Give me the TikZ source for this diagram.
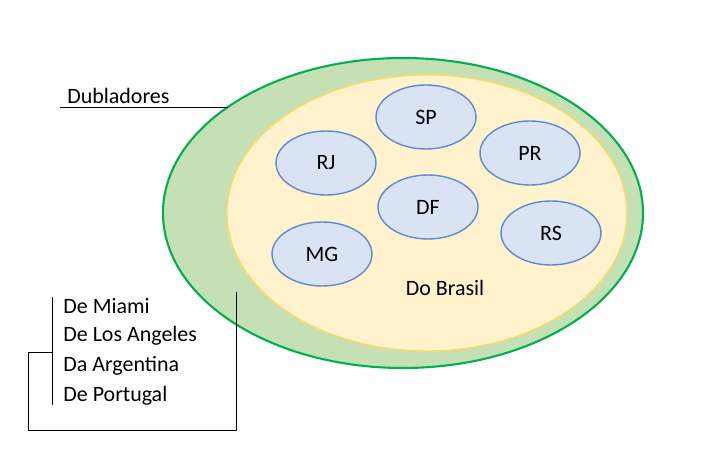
\documentclass[tikz,border=0pt]{standalone}
\usepackage{fontspec}
\setmainfont{Carlito}
\usetikzlibrary{calc, shapes.geometric}
\definecolor{outerfill}{HTML}{C5E0B4}
\definecolor{outerline}{HTML}{00B050}
\definecolor{innerfill}{HTML}{FFF2CC}
\definecolor{innerline}{HTML}{FFD966}
\definecolor{statefill}{HTML}{DAE3F3}
\definecolor{stateline}{HTML}{5B8BD0}
\tikzset{
  state/.style={draw=stateline, fill=statefill, thick, ellipse, minimum width=2cm, minimum height=1.28cm, font=\fontsize{12.5}{15}\selectfont},
  label text/.style={anchor=west, inner sep=0pt, font=\fontsize{12.5}{15}\selectfont}
}
\begin{document}
\begin{tikzpicture}[x=0.02cm, y=-0.02cm]
  \useasboundingbox (0, 0) rectangle (718, 455);
  % sets
  \draw [very thick, outerline, fill=outerfill] (403, 213) ellipse [x radius=240, y radius=155];
  \draw [thick, innerline, fill=innerfill] (427, 213) ellipse [x radius=200, y radius=138];
  \node [label text, anchor=center] (brasil) at (445, 288) {Do Brasil};

  % states
  \node [state] (SP) at (426, 117) {SP};
  \node [state] (RJ) at (326, 163) {RJ};
  \node [state] (PR) at (530, 153) {PR};
  \node [state] (DF) at (428, 207) {DF};
  \node [state] (RS) at (551, 233) {RS};
  \node [state] (MG) at (322, 254) {MG};

  % dubladores label
  \node [label text] (dub) at (67, 96) {Dubladores};
  \coordinate (dubL) at (60, 107);
  \coordinate (dubR) at (228, 107);
  \draw (dubL) -- (dubR);

  % foreign list
  \node [label text] (miami) at (63, 306) {De Miami};
  \node [label text] (la) at (63, 336) {De Los Angeles};
  \node [label text] (arg) at (63, 366) {Da Argentina};
  \node [label text] (por) at (63, 396) {De Portugal};
  \coordinate (listT) at (52, 297);
  \coordinate (listB) at (52, 405);
  \draw (listT) -- (listB);
  \coordinate (brk) at (52, 352);
  \coordinate (ptr) at (236, 292);
  \draw (brk) -- (28, 352) -- (28, 430) -- (236, 430) -- (ptr);
\end{tikzpicture}
\end{document}
